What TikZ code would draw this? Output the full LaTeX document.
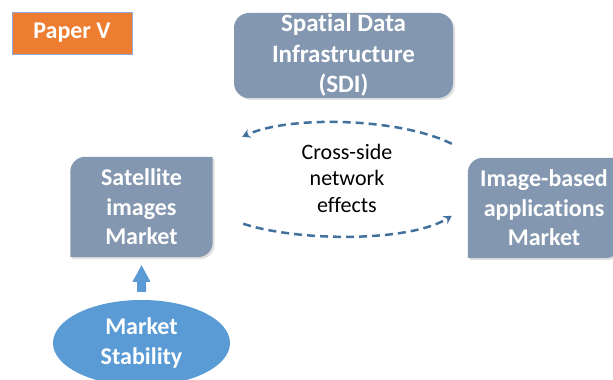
\documentclass[tikz,border=0pt]{standalone}
\usepackage{fontspec}
\setmainfont{Carlito}[Ligatures=NoCommon]
\usetikzlibrary{shapes.geometric,arrows.meta,calc,backgrounds,shadows}
\definecolor{boxgray}{RGB}{132,151,176}
\definecolor{paperorange}{RGB}{237,125,49}
\definecolor{stabblue}{RGB}{91,155,213}
\definecolor{dashblue}{RGB}{65,113,156}
\definecolor{edgeblue}{RGB}{143,170,220}

\begin{document}
\begin{tikzpicture}[x=1pt, y=1pt,
    boxtext/.style={align=center, text=white, inner sep=0pt, font=\fontsize{24}{29.5}\selectfont\bfseries},
    softshadow/.style={drop shadow={shadow xshift=2pt, shadow yshift=-2pt, opacity=0.25}},
    crossarrow/.style={dashblue, line width=2.5pt, dash pattern=on 8pt off 5pt, -{Stealth[length=8pt, width=9pt]}}]
    \useasboundingbox (0,0) rectangle (613,380);
    \clip (0,0) rectangle (613,380);

    % Paper label
    \node[boxtext, fill=paperorange, draw=edgeblue, line width=0.75pt, minimum width=120pt, minimum height=42pt] (paper) at (72,347) {Paper V};

    % SDI box on top
    \node[boxtext, fill=boxgray, rounded corners=15pt, softshadow, minimum width=219pt, minimum height=85pt, font=\fontsize{25}{30.5}\selectfont\bfseries] (sdi) at (343.5,324.5) {Spatial Data\\Infrastructure\\(SDI)};

    % The two markets (round diagonal corners)
    \node[boxtext, minimum width=142pt, minimum height=100pt] (sat) at (141.5,173) {Satellite\\images\\Market};
    \node[boxtext, minimum width=152pt, minimum height=100pt] (img) at (544,172) {Image-based\\applications\\Market};
    \begin{scope}[on background layer]
        \fill[boxgray, softshadow] (sat.south west) -- ($(sat.north west) + (0,-15)$) arc[start angle=180, end angle=90, radius=15pt] -- (sat.north east) -- ($(sat.south east) + (0,15)$) arc[start angle=0, end angle=-90, radius=15pt] -- cycle;
        \fill[boxgray, softshadow] (img.south west) -- ($(img.north west) + (0,-15)$) arc[start angle=180, end angle=90, radius=15pt] -- (img.north east) -- ($(img.south east) + (0,15)$) arc[start angle=0, end angle=-90, radius=15pt] -- cycle;
    \end{scope}

    % Market stability and the block arrow up
    \node[boxtext, ellipse, fill=stabblue, minimum width=177pt, minimum height=86pt] (stab) at (141.5,37) {Market\\Stability};
    \coordinate (abase) at ($(stab.north) + (0,8)$);
    \coordinate (atip) at ($(sat.south) + (0,-8)$);
    \fill[stabblue] ($(abase) + (-4.5,0)$) -- ($(abase) + (4.5,0)$) -- ($(abase) + (4.5,10)$) -- ($(abase) + (9,10)$) -- (atip) -- ($(abase) + (-9,10)$) -- ($(abase) + (-4.5,10)$) -- cycle;

    % Cross-side network effects
    \node[align=center, inner sep=0pt, font=\fontsize{22}{26.5}\selectfont] (cross) at (347,202) {Cross-side\\network\\effects};
    \coordinate (topR) at ($(img.north west) + (-16,14)$);
    \coordinate (topL) at ($(sat.north east) + (29.5,20)$);
    \coordinate (botL) at ($(sat.north east) + (30.5,-67)$);
    \coordinate (botR) at ($(img.north west) + (-16,-58)$);
    \draw[crossarrow] (topR) .. controls (400,262) and (290,265) .. (topL);
    \draw[crossarrow] (botL) .. controls (300,138) and (410,138) .. (botR);
\end{tikzpicture}
\end{document}
